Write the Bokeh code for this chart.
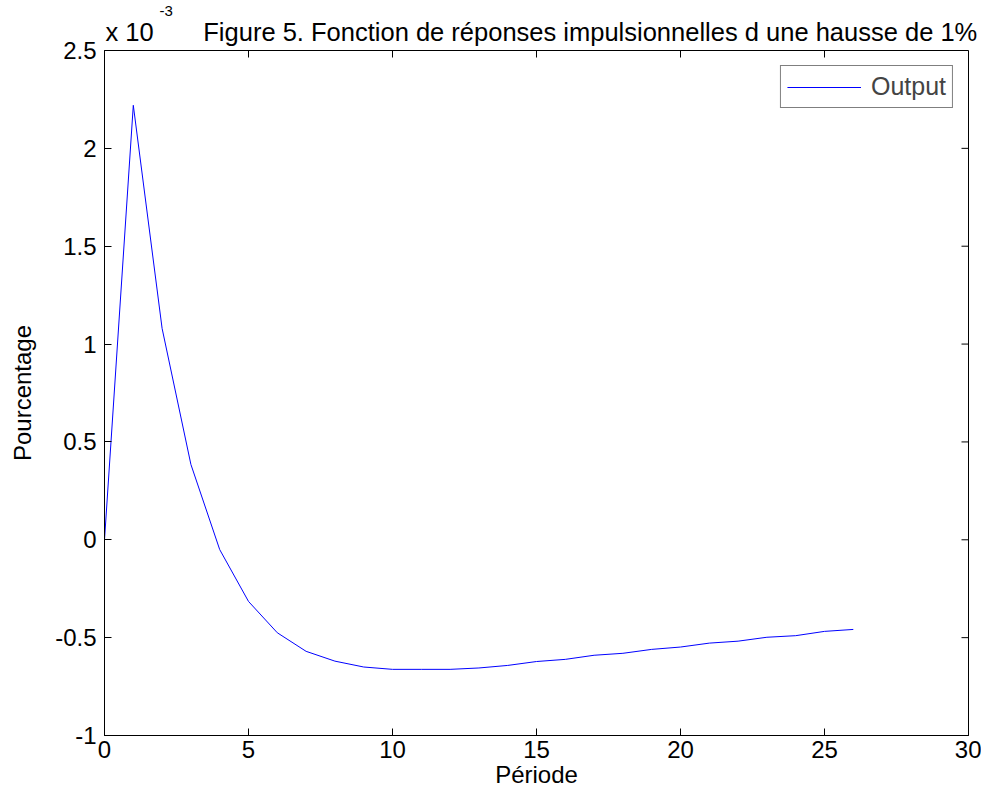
import math
from bokeh.plotting import figure
from bokeh.models import (FixedTicker, Range1d, Title, Legend, LegendItem)
from bokeh.embed import file_html
from bokeh.resources import INLINE

# Data (values in units of 1e-3)
periode = list(range(0, 27))
output_e3 = [0.0, 2.22, 1.08, 0.385, -0.05, -0.315, -0.475, -0.57, -0.62, -0.65,
             -0.662, -0.662, -0.662, -0.655, -0.642, -0.622, -0.611, -0.59, -0.58,
             -0.56, -0.548, -0.528, -0.518, -0.498, -0.49, -0.468, -0.458]

x_ticks = [0, 5, 10, 15, 20, 25, 30]
y_ticks = [-1, -0.5, 0, 0.5, 1, 1.5, 2, 2.5]
y_tick_labels = ["-1", "-0.5", "0", "0.5", "1", "1.5", "2", "2.5"]
x_min, x_max = 0, 30
y_min, y_max = -1, 2.5

FONT = "Liberation Sans"
FS = "24px"
NB = "\u00a0"

p = figure(frame_width=864, frame_height=685, output_backend="svg", toolbar_location=None,
           x_range=Range1d(x_min, x_max), y_range=Range1d(y_min, y_max),
           min_border_left=104, min_border_right=13, min_border_top=50, min_border_bottom=50,
           background_fill_color="white", border_fill_color="white")
p.grid.visible = False
p.outline_line_color = "black"
p.outline_line_width = 1

r = p.line(periode, output_e3, line_color="#0000ff", line_width=1)

# inward ticks on the top and right edges of the box
p.ray(x=x_ticks, y=[y_max] * len(x_ticks), length=7, angle=-math.pi / 2,
      length_units="screen", line_color="black", line_width=1)
p.ray(x=[x_max] * len(y_ticks), y=y_ticks, length=7, angle=math.pi,
      length_units="screen", line_color="black", line_width=1)

def style_axis(ax):
    ax.axis_line_color = "black"
    ax.major_tick_in = 7
    ax.major_tick_out = 0
    ax.minor_tick_line_color = None
    ax.major_tick_line_color = "black"
    ax.major_label_text_font = FONT
    ax.major_label_text_font_size = FS
    ax.major_label_text_color = "black"
    ax.axis_label_text_font = FONT
    ax.axis_label_text_font_size = FS
    ax.axis_label_text_font_style = "normal"
    ax.axis_label_text_color = "black"

xa = p.xaxis[0]
xa.ticker = FixedTicker(ticks=x_ticks)
xa.axis_label = "Période"
xa.major_label_standoff = 5
xa.axis_label_standoff = 0
style_axis(xa)

ya = p.yaxis[0]
ya.ticker = FixedTicker(ticks=y_ticks)
ya.major_label_overrides = {t: l for t, l in zip(y_ticks, y_tick_labels)}
ya.axis_label = "Pourcentage"
ya.major_label_standoff = 8
ya.axis_label_standoff = 16
ya.major_label_orientation = "horizontal"
style_axis(ya)

title = Title(text="x" + NB + "10" + NB * 7 +
              "Figure 5. Fonction de réponses impulsionnelles d une hausse de 1%",
              align="left", offset=1, text_font=FONT, text_font_size="25.5px",
              text_font_style="normal", text_color="black", standoff=10)
p.add_layout(title, "above")
expo = Title(text="-3", align="left", offset=55, text_font=FONT, text_font_size="15px",
             text_font_style="normal", text_color="black", standoff=-10)
p.add_layout(expo, "above")

legend = Legend(items=[LegendItem(label="Output", renderers=[r])], location="top_right",
                border_line_color="black", border_line_width=1, label_text_font=FONT,
                label_text_font_size="25px", glyph_width=74, margin=15, padding=6,
                label_standoff=10, background_fill_alpha=1)
p.add_layout(legend)

open("out.html", "w").write(file_html(p, INLINE))
